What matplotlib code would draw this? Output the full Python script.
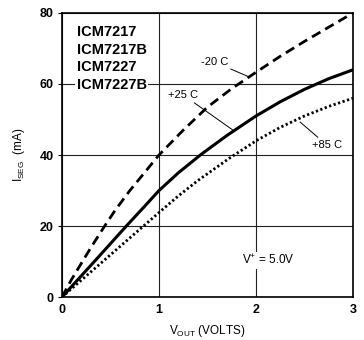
import matplotlib
matplotlib.use("Agg")
import matplotlib.pyplot as plt

plt.rcParams['font.family'] = ['Liberation Sans', 'DejaVu Sans']
plt.rcParams['mathtext.fontset'] = 'custom'
plt.rcParams['mathtext.rm'] = 'Liberation Sans'

# data (V_OUT in volts, I_SEG in mA)
v_cold = [0, 0.1, 0.2, 0.3, 0.44, 0.55, 0.7, 0.85, 1.0, 1.25, 1.5, 1.75, 2.0, 2.25, 2.5, 2.75, 3.0]
i_cold = [0, 5, 9.5, 14, 20, 24.5, 30, 35, 40, 47, 53.5, 58.7, 63.3, 67.8, 72, 76, 80]

v_room = [0, 0.1, 0.35, 0.68, 0.85, 1.0, 1.2, 1.44, 1.7, 2.0, 2.25, 2.5, 2.75, 3.0]
i_room = [0, 3, 10.5, 20.5, 25.5, 30, 35, 40.3, 45.5, 51, 55, 58.5, 61.5, 64]

v_hot = [0, 0.1, 0.42, 0.84, 1.0, 1.2, 1.4, 1.72, 2.0, 2.25, 2.5, 2.75, 3.0]
i_hot = [0, 2.4, 10, 20, 23.8, 28.5, 32.8, 39, 44, 47.8, 51, 53.7, 56]

x_ticks = [0, 1, 2, 3]
y_ticks = [0, 20, 40, 60, 80]
parts = ["ICM7217", "ICM7217B", "ICM7227", "ICM7227B"]

fig = plt.figure(figsize=(3.64, 3.40), dpi=100)
ax = fig.add_axes([0.170, 0.126, 0.800, 0.836])

ax.plot(v_cold, i_cold, color="black", lw=2, dashes=(3.5, 2))
ax.plot(v_room, i_room, color="black", lw=2.2, solid_capstyle="butt")
ax.plot(v_hot, i_hot, color="black", lw=2, linestyle=(0, (0.8, 0.9)))

ax.set_xlim(0, 3)
ax.set_ylim(0, 80)
ax.set_xticks(x_ticks)
ax.set_yticks(y_ticks)
ax.tick_params(axis="x", length=0, pad=5)
ax.tick_params(axis="y", length=3, width=0.8, pad=3)
for lab in ax.get_xticklabels() + ax.get_yticklabels():
    lab.set_fontsize(9)
    lab.set_fontweight("bold")
ax.grid(True, color="#222222", lw=0.8)
for s in ax.spines.values():
    s.set_linewidth(1.2)

ax.set_xlabel(r"V$_{\mathrm{OUT}}$ (VOLTS)", fontsize=8.5, labelpad=5)
ax.set_ylabel(r"I$_{\mathrm{SEG}}$  (mA)", fontsize=8.5, labelpad=9)

ax.text(0.155, 76.6, "\n".join(parts), fontsize=10.5, fontweight="bold",
        va="top", ha="left", linespacing=1.33,
        bbox=dict(facecolor="white", edgecolor="none", pad=1))

lead = dict(arrowstyle="-", color="black", lw=0.7, shrinkA=0, shrinkB=0)
ax.annotate("-20 C", xy=(1.928, 62.0), xytext=(1.57, 66.2), fontsize=8,
            ha="center", va="center", arrowprops=lead)
ax.annotate("+25 C", xy=(1.763, 47.0), xytext=(1.25, 56.9), fontsize=8,
            ha="center", va="center", arrowprops=lead)
ax.annotate("+85 C", xy=(2.454, 49.3), xytext=(2.73, 42.8), fontsize=8,
            ha="center", va="center", arrowprops=lead)

ax.text(2.124, 10.4, r"V$^{+}$ = 5.0V", fontsize=8.5, ha="center", va="center",
        bbox=dict(facecolor="white", edgecolor="none", pad=1))

fig.savefig("out.png", dpi=100)
